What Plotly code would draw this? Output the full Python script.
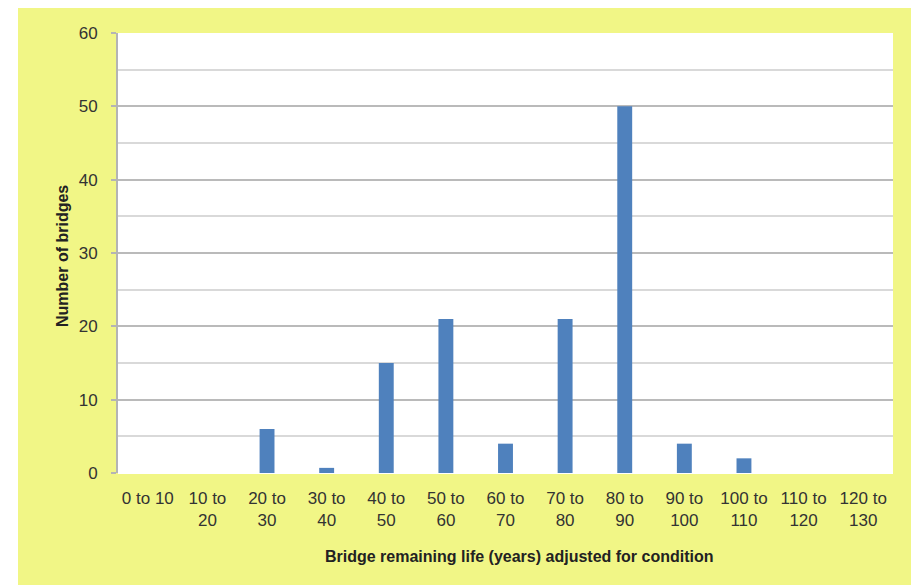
import plotly.graph_objects as go

# Data
categories = ["0 to 10", "10 to 20", "20 to 30", "30 to 40", "40 to 50", "50 to 60",
              "60 to 70", "70 to 80", "80 to 90", "90 to 100", "100 to 110",
              "110 to 120", "120 to 130"]
tick_labels = ["0 to 10", "10 to<br>20", "20 to<br>30", "30 to<br>40", "40 to<br>50",
               "50 to<br>60", "60 to<br>70", "70 to<br>80", "80 to<br>90", "90 to<br>100",
               "100 to<br>110", "110 to<br>120", "120 to<br>130"]
bridge_counts = [0, 0, 6, 0.7, 15, 21, 4, 21, 50, 4, 2, 0, 0]
y_ticks = [0, 10, 20, 30, 40, 50, 60]

OFF = 8  # page body margin
W, H = 911, 577
L, R, T, B = 110, 26, 25, 112
PW, PH = W - L - R, H - T - B

def fx(px):  # page pixel -> paper fraction
    return (px - OFF - L) / PW

def fy(py):
    return (H - B - (py - OFF)) / PH

YELLOW = "rgb(241,246,134)"
FONT = "Liberation Sans, Arial, sans-serif"

fig = go.Figure(go.Bar(
    x=categories, y=bridge_counts,
    marker=dict(color="#4f81bd", line=dict(width=0)),
    width=0.25,
))

fig.update_layout(
    width=W, height=H,
    margin=dict(l=L, r=R, t=T, b=B),
    paper_bgcolor=YELLOW,
    plot_bgcolor="white",
    showlegend=False,
    font=dict(family=FONT, size=17, color="#333333"),
    xaxis=dict(
        type="category",
        tickmode="array", tickvals=categories, ticktext=tick_labels,
        tickangle=0, showgrid=False, showline=False, ticks="",
        tickfont=dict(size=17, color="#333333"),
        ticklabelstandoff=13,
    ),
    yaxis=dict(
        range=[0, 60], tickmode="array", tickvals=y_ticks,
        showgrid=True, gridcolor="#bababa", gridwidth=1.5,
        minor=dict(dtick=5, showgrid=True, gridcolor="#d9d9d9", gridwidth=1.5, ticks=""),
        zeroline=True, zerolinecolor="white", zerolinewidth=1,
        showline=True, linecolor="#b4b4b4", linewidth=2,
        ticks="outside", ticklen=5, tickcolor="#b4b4b4", tickwidth=1.5,
        tickfont=dict(size=17, color="#333333"),
        ticklabelstandoff=10,
    ),
    shapes=[
        dict(type="rect", xref="paper", yref="paper", layer="below",
             x0=fx(OFF), x1=fx(18), y0=fy(H + OFF), y1=fy(OFF),
             fillcolor="white", line=dict(width=0)),
    ],
    annotations=[
        dict(text="<b>Bridge remaining life (years) adjusted for condition</b>",
             xref="paper", yref="paper", x=fx(519), y=fy(556),
             xanchor="center", yanchor="middle", showarrow=False,
             font=dict(size=16, color="#222222")),
        dict(text="<b>Number of bridges</b>",
             xref="paper", yref="paper", x=fx(62), y=fy(256),
             xanchor="center", yanchor="middle", showarrow=False, textangle=-90,
             font=dict(size=16, color="#222222")),
    ],
)

fig.write_html("out.html")
